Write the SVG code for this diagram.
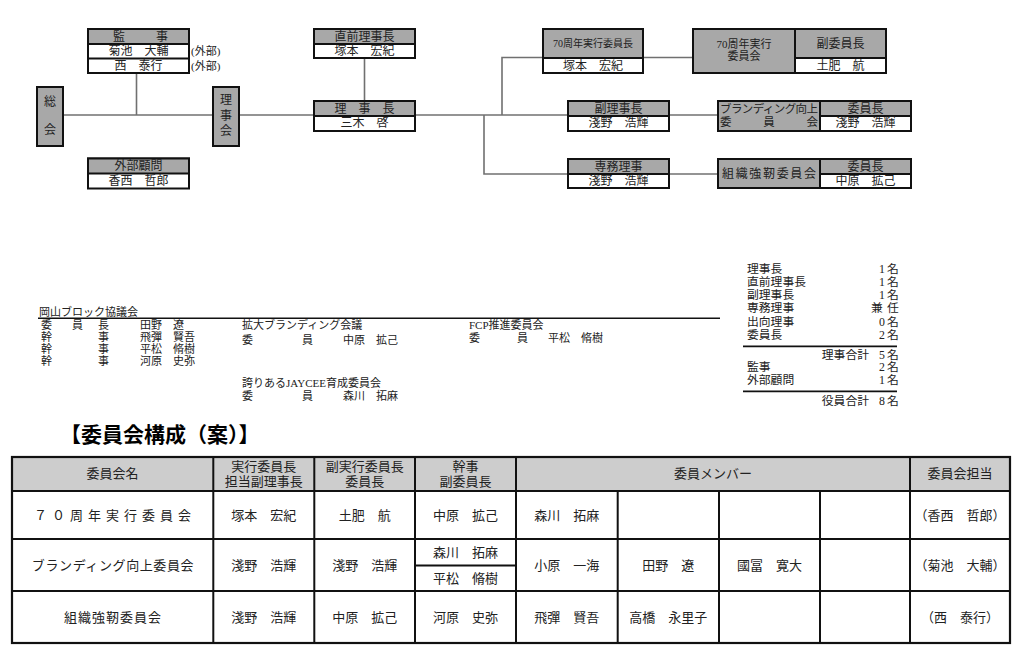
<svg xmlns="http://www.w3.org/2000/svg" width="1024" height="655" viewBox="0 0 1024 655">
<style>
text{font-family:"Liberation Serif","Noto Sans CJK JP",serif;fill:#222}
.o{font-size:12px;text-anchor:middle}
.s{font-size:11px}
.st{font-size:11.8px}
.n{font-size:11.8px;text-anchor:middle}
.tb{font-size:13px;text-anchor:middle}
.bx{fill:#fff;stroke:#111;stroke-width:2}
.hd{fill:#a8a8a8;stroke:#111;stroke-width:2}
.gr{fill:#a8a8a8;stroke:#111;stroke-width:2}
.ln{stroke:#111;stroke-width:2;fill:none}
.cn{stroke:#707070;stroke-width:1.6;fill:none}
.th{fill:#cdcdcd}
</style>
<rect width="1024" height="655" fill="#fff"/>

<g id="connectors">
<path class="cn" d="M136.5 73 V115"/>
<path class="cn" d="M63 115 H213"/>
<path class="cn" d="M239 115 H314"/>
<path class="cn" d="M364.5 58 V101"/>
<path class="cn" d="M415 115 H568"/>
<path class="cn" d="M502 115 V57.5 H543"/>
<path class="cn" d="M643 57.5 H693"/>
<path class="cn" d="M484 115 V174 H568"/>
<path class="cn" d="M669 115 H718"/>
<path class="cn" d="M669 174 H718"/>
</g>

<g id="kanji">
<rect class="bx" x="88" y="29" width="101" height="44"/>
<rect class="hd" x="88" y="29" width="101" height="15"/>
<line class="ln" x1="88" y1="58.5" x2="189" y2="58.5"/>
<text class="o" x="119" y="40.5">監</text>
<text class="o" x="162" y="40.5">事</text>
<text class="o" x="138.5" y="55">菊池　大輔</text>
<text class="o" x="138.5" y="69.5">西　泰行</text>
<text class="s" x="191" y="55">(外部)</text>
<text class="s" x="191" y="69.5">(外部)</text>
</g>

<g id="gaibu-komon">
<rect class="bx" x="88" y="158.5" width="101" height="30"/>
<rect class="hd" x="88" y="158.5" width="101" height="15"/>
<text class="o" x="138.5" y="170">外部顧問</text>
<text class="o" x="138.5" y="184.5">香西　哲郎</text>
</g>

<g id="soukai">
<rect class="gr" x="37" y="87" width="26" height="59"/>
<text class="o" x="50" y="106">総</text>
<text class="o" x="50" y="134">会</text>
</g>

<g id="rijikai">
<rect class="gr" x="213" y="87" width="26" height="59"/>
<text class="o" x="226" y="104">理</text>
<text class="o" x="226" y="119.5">事</text>
<text class="o" x="226" y="135">会</text>
</g>

<g id="chokuzen">
<rect class="bx" x="314" y="29" width="101" height="29"/>
<rect class="hd" x="314" y="29" width="101" height="15"/>
<text class="o" x="364.5" y="40.5">直前理事長</text>
<text class="o" x="364.5" y="55">塚本　宏紀</text>
</g>

<g id="rijichou">
<rect class="bx" x="314" y="101" width="101" height="30"/>
<rect class="hd" x="314" y="101" width="101" height="15"/>
<text class="o" x="364.5" y="112.5">理　事　長</text>
<text class="o" x="364.5" y="127">三木　啓</text>
</g>

<g id="jikkou-iinchou">
<rect class="bx" x="543" y="29" width="100" height="44"/>
<rect class="hd" x="543" y="29" width="100" height="29"/>
<text class="o" x="593" y="47" style="font-size:10px">70周年実行委員長</text>
<text class="o" x="593" y="69.5">塚本　宏紀</text>
</g>

<g id="jikkou-iinkai">
<rect class="gr" x="693" y="29" width="102" height="44"/>
<text class="o" x="744" y="48" style="font-size:11px">70周年実行</text>
<text class="o" x="744" y="60" style="font-size:11px">委員会</text>
<rect class="bx" x="795" y="29" width="91" height="44"/>
<rect class="hd" x="795" y="29" width="91" height="29"/>
<text class="o" x="840.5" y="47.5">副委員長</text>
<text class="o" x="840.5" y="69.5">土肥　航</text>
</g>

<g id="fukurijichou">
<rect class="bx" x="568" y="101" width="101" height="30"/>
<rect class="hd" x="568" y="101" width="101" height="15"/>
<text class="o" x="618.5" y="112.5">副理事長</text>
<text class="o" x="618.5" y="127">淺野　浩輝</text>
</g>

<g id="senmu">
<rect class="bx" x="568" y="159" width="101" height="29"/>
<rect class="hd" x="568" y="159" width="101" height="15"/>
<text class="o" x="618.5" y="170.5">専務理事</text>
<text class="o" x="618.5" y="185">淺野　浩輝</text>
</g>

<g id="branding">
<rect class="gr" x="718" y="101" width="102" height="30"/>
<text x="720" y="112.5" style="font-size:11.5px" textLength="98" lengthAdjust="spacing">ブランディング向上</text>
<text x="720" y="126" style="font-size:11.5px" textLength="98" lengthAdjust="spacing">委員会</text>
<rect class="bx" x="820" y="101" width="91" height="30"/>
<rect class="hd" x="820" y="101" width="91" height="15"/>
<text class="o" x="865.5" y="112.5">委員長</text>
<text class="o" x="865.5" y="127">淺野　浩輝</text>
</g>

<g id="soshiki">
<rect class="gr" x="718" y="159" width="102" height="29"/>
<text x="722" y="178" style="font-size:12px" textLength="94" lengthAdjust="spacing">組織強靭委員会</text>
<rect class="bx" x="820" y="159" width="91" height="29"/>
<rect class="hd" x="820" y="159" width="91" height="15"/>
<text class="o" x="865.5" y="170.5">委員長</text>
<text class="o" x="865.5" y="185">中原　拡己</text>
</g>

<g id="block">
<text class="s" x="39" y="315.5">岡山ブロック協議会</text>
<line x1="38" y1="318.3" x2="720" y2="318.3" stroke="#111" stroke-width="1.6"/>
<text class="s" x="41" y="329">委</text><text class="s" x="72" y="329">員</text><text class="s" x="98" y="329">長</text><text class="s" x="140" y="329">田野　遼</text>
<text class="s" x="41" y="341">幹</text><text class="s" x="98" y="341">事</text><text class="s" x="140" y="341">飛彈　賢吾</text>
<text class="s" x="41" y="353">幹</text><text class="s" x="98" y="353">事</text><text class="s" x="140" y="353">平松　脩樹</text>
<text class="s" x="41" y="365">幹</text><text class="s" x="98" y="365">事</text><text class="s" x="140" y="365">河原　史弥</text>
<text class="s" x="242" y="329">拡大ブランディング会議</text>
<text class="s" x="242" y="343.5">委</text><text class="s" x="302" y="343.5">員</text><text class="s" x="343" y="343.5">中原　拡己</text>
<text class="s" x="242" y="387">誇りあるJAYCEE育成委員会</text>
<text class="s" x="242" y="400">委</text><text class="s" x="302" y="400">員</text><text class="s" x="343" y="400">森川　拓麻</text>
<text class="s" x="469" y="329">FCP推進委員会</text>
<text class="s" x="469" y="342">委</text><text class="s" x="517" y="342">員</text><text class="s" x="548" y="342">平松　脩樹</text>
</g>

<g id="totals">
<text class="st" x="747" y="272.5">理事長</text><text class="n" x="882" y="272.5">1</text><text class="n" x="893" y="272.5">名</text>
<text class="st" x="747" y="286">直前理事長</text><text class="n" x="882" y="286">1</text><text class="n" x="893" y="286">名</text>
<text class="st" x="747" y="299">副理事長</text><text class="n" x="882" y="299">1</text><text class="n" x="893" y="299">名</text>
<text class="st" x="747" y="312">専務理事</text><text class="n" x="877" y="312">兼</text><text class="n" x="893" y="312">任</text>
<text class="st" x="747" y="325.5">出向理事</text><text class="n" x="882" y="325.5">0</text><text class="n" x="893" y="325.5">名</text>
<text class="st" x="747" y="338.5">委員長</text><text class="n" x="882" y="338.5">2</text><text class="n" x="893" y="338.5">名</text>
<line x1="743" y1="346.3" x2="897" y2="346.3" stroke="#111" stroke-width="1.8"/>
<text class="st" x="869" y="358.5" text-anchor="end">理事合計</text><text class="n" x="882" y="358.5">5</text><text class="n" x="893" y="358.5">名</text>
<text class="st" x="747" y="371">監事</text><text class="n" x="882" y="371">2</text><text class="n" x="893" y="371">名</text>
<text class="st" x="747" y="384">外部顧問</text><text class="n" x="882" y="384">1</text><text class="n" x="893" y="384">名</text>
<line x1="743" y1="391.3" x2="897" y2="391.3" stroke="#111" stroke-width="1.8"/>
<text class="st" x="869" y="404.5" text-anchor="end">役員合計</text><text class="n" x="882" y="404.5">8</text><text class="n" x="893" y="404.5">名</text>
</g>

<text x="60" y="442" style="font-size:21px;font-weight:bold;fill:#000">【委員会構成（案）】</text>

<g id="table">
<rect class="th" x="12" y="457" width="998" height="34"/>
<rect x="12" y="457" width="998" height="186" fill="none" stroke="#111" stroke-width="2.2"/>
<path class="ln" d="M12 491 H1010 M12 539 H1010 M12 591 H1010 M415 565.5 H516"/>
<path class="ln" d="M213.3 457 V643 M314.3 457 V643 M415 457 V643 M516 457 V643 M910 457 V643"/>
<path class="ln" d="M617.7 491 V643 M719 491 V643 M820 491 V643"/>
<text class="tb" x="112.5" y="478">委員会名</text>
<text class="tb" x="263.8" y="471">実行委員長</text>
<text class="tb" x="263.8" y="485.5">担当副理事長</text>
<text class="tb" x="364.7" y="471">副実行委員長</text>
<text class="tb" x="364.7" y="485.5">委員長</text>
<text class="tb" x="465.5" y="471">幹事</text>
<text class="tb" x="465.5" y="485.5">副委員長</text>
<text class="tb" x="713" y="478">委員メンバー</text>
<text class="tb" x="960" y="478">委員会担当</text>

<text class="tb" x="115" y="519.5" style="letter-spacing:5px">７０周年実行委員会</text>
<text class="tb" x="263.8" y="519.5">塚本　宏紀</text>
<text class="tb" x="364.7" y="519.5">土肥　航</text>
<text class="tb" x="465.5" y="519.5">中原　拡己</text>
<text class="tb" x="566.8" y="519.5">森川　拓麻</text>
<text class="tb" x="960" y="519.5">（香西　哲郎）</text>

<text class="tb" x="113" y="570" style="letter-spacing:0.6px">ブランディング向上委員会</text>
<text class="tb" x="263.8" y="570">淺野　浩輝</text>
<text class="tb" x="364.7" y="570">淺野　浩輝</text>
<text class="tb" x="465.5" y="557">森川　拓麻</text>
<text class="tb" x="465.5" y="583">平松　脩樹</text>
<text class="tb" x="566.8" y="570">小原　一海</text>
<text class="tb" x="668.3" y="570">田野　遼</text>
<text class="tb" x="769.5" y="570">國冨　寛大</text>
<text class="tb" x="960" y="570">（菊池　大輔）</text>

<text class="tb" x="113" y="622" style="letter-spacing:1px">組織強靭委員会</text>
<text class="tb" x="263.8" y="622">淺野　浩輝</text>
<text class="tb" x="364.7" y="622">中原　拡己</text>
<text class="tb" x="465.5" y="622">河原　史弥</text>
<text class="tb" x="566.8" y="622">飛彈　賢吾</text>
<text class="tb" x="668.3" y="622">高橋　永里子</text>
<text class="tb" x="960" y="622">（西　泰行）</text>
</g>
</svg>
